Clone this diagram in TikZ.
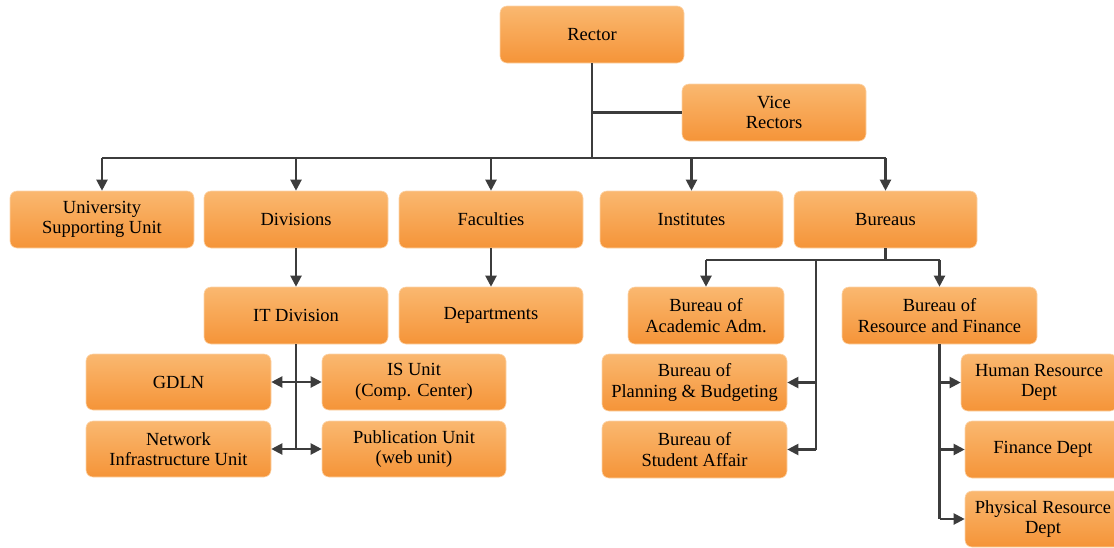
\documentclass[tikz,border=0pt]{standalone}
\usepackage{fontspec}
\setmainfont{Liberation Serif}
\usetikzlibrary{arrows.meta,shadings}
\definecolor{boxtop}{RGB}{250,184,112}
\definecolor{boxbot}{RGB}{245,148,56}
\definecolor{wire}{RGB}{60,60,60}
\tikzset{
  x=1pt,y=-1pt,
  unit/.style={rounded corners=7pt, top color=boxtop, bottom color=boxbot,
    draw=boxtop!60!white, line width=0.6pt,
    minimum width=184pt, minimum height=57pt, inner sep=2pt, align=center,
    font=\fontsize{18.5}{20.5}\selectfont},
  wline/.style={draw=wire, line width=2.1pt},
  tip/.style={wline, -{Triangle[length=11pt,width=11pt]}},
  tips/.style={wline, {Triangle[length=11pt,width=11pt]}-{Triangle[length=11pt,width=11pt]}},
}
\begin{document}
\begin{tikzpicture}
\useasboundingbox (0,0) rectangle (1114,547);

% top level
\node[unit] (rector) at (592,34.5) {Rector};
\node[unit] (vice) at (774,112.5) {Vice\\Rectors};

% second level
\node[unit] (usu) at (102,219.5) {University\\Supporting Unit};
\node[unit] (div) at (296,219.5) {Divisions};
\node[unit] (fac) at (491,219.5) {Faculties};
\node[unit, minimum width=183pt] (inst) at (691.5,219.5) {Institutes};
\node[unit, minimum width=183pt] (bur) at (885.5,219.5) {Bureaus};

% third level
\node[unit] (itd) at (296,315.5) {IT Division};
\node[unit] (dep) at (491,315.5) {Departments};
\node[unit, minimum width=156pt] (acad) at (706,315.5) {Bureau of\\Academic Adm.};
\node[unit, minimum width=195pt] (resf) at (939.5,315.5) {Bureau of\\Resource and Finance};

% IT units
\node[unit, minimum width=185pt, minimum height=56pt] (gdln) at (178.5,382) {GDLN};
\node[unit, minimum height=56pt] (isu) at (414,382) {IS Unit\\(Comp. Center)};
\node[unit, minimum width=185pt, minimum height=56pt] (net) at (178.5,449) {Network\\Infrastructure Unit};
\node[unit, minimum height=56pt] (pub) at (414,449) {Publication Unit\\(web unit)};

% bureau units
\node[unit, minimum width=185pt] (plan) at (694.5,382.5) {Bureau of\\Planning \& Budgeting};
\node[unit, minimum width=185pt] (stud) at (694.5,449.5) {Bureau of\\Student Affair};

% resource and finance departments
\node[unit, minimum width=156pt] (hrd) at (1039,382.5) {Human Resource\\Dept};
\node[unit, minimum width=156pt] (fin) at (1043,449.5) {Finance Dept};
\node[unit, minimum width=156pt, minimum height=56pt] (phys) at (1043,519) {Physical Resource\\Dept};

% rector to second level
\coordinate (bus) at (592,158);
\draw[wline] (rector.south) -- (rector.south |- bus);
\draw[wline] (rector.south |- vice.west) -- (vice.west);
\draw[wline] (usu.north |- bus) -- (bur.north |- bus);
\foreach \n in {usu,div,fac,inst,bur}
  \draw[tip] (\n.north |- bus) -- (\n.north);

% divisions and faculties
\draw[tip] (div.south) -- (itd.north);
\draw[tip] (fac.south) -- (dep.north);

% IT division units
\draw[wline] (itd.south) -- (itd.south |- net.east);
\draw[tips] (gdln.east) -- (isu.west);
\draw[tips] (net.east) -- (pub.west);

% bureaus
\coordinate (bbus) at (885.5,260);
\coordinate (bdrop) at (816,260);
\draw[wline] (bur.south) -- (bbus);
\draw[wline] (acad.north |- bbus) -- (resf.north |- bbus);
\draw[tip] (acad.north |- bbus) -- (acad.north);
\draw[tip] (resf.north |- bbus) -- (resf.north);
\draw[wline] (bdrop) -- (bdrop |- stud.east);
\draw[tip] (bdrop |- plan.east) -- (plan.east);
\draw[tip] (bdrop |- stud.east) -- (stud.east);

% resource and finance
\draw[wline] (resf.south) -- (resf.south |- phys.west);
\draw[tip] (resf.south |- hrd.west) -- (hrd.west);
\draw[tip] (resf.south |- fin.west) -- (fin.west);
\draw[tip] (resf.south |- phys.west) -- (phys.west);
\end{tikzpicture}
\end{document}
